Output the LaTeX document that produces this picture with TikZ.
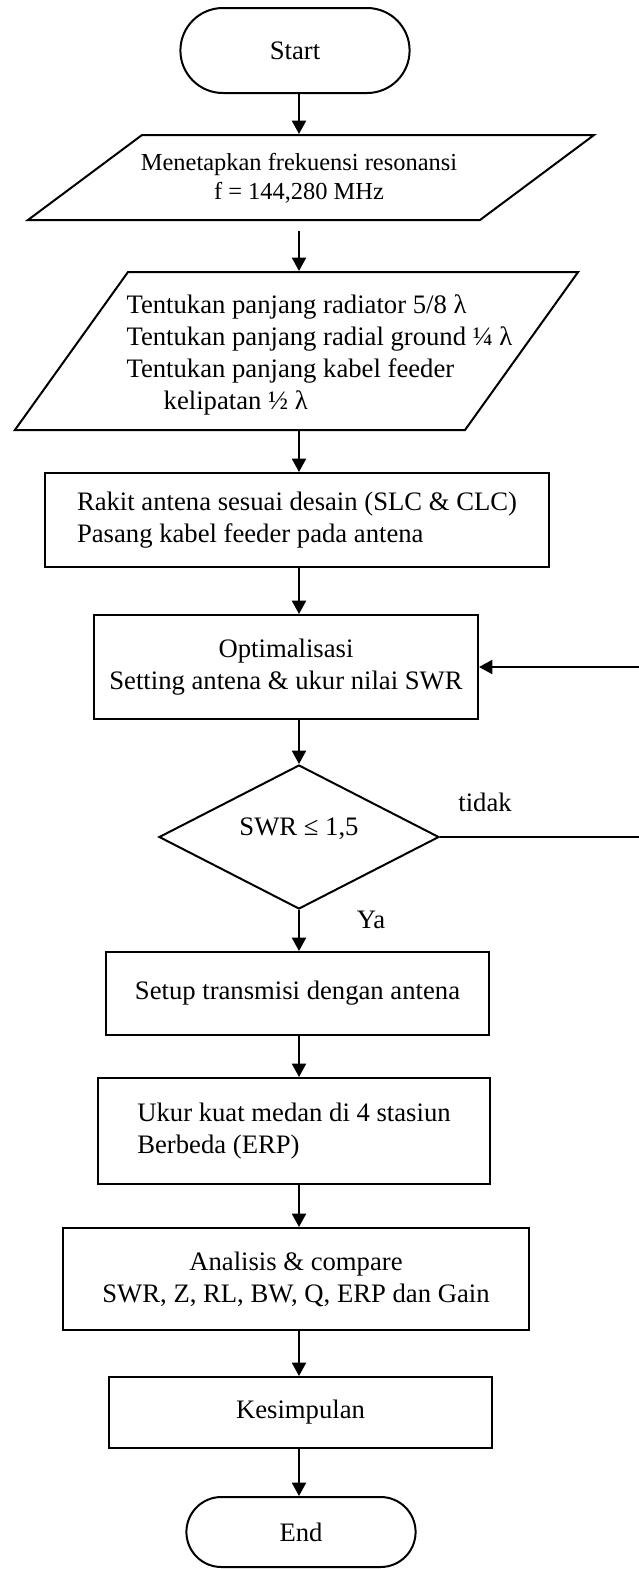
\documentclass[tikz,border=0pt]{standalone}
\usepackage{fontspec}
\setmainfont{Liberation Serif}
\usetikzlibrary{arrows.meta,shapes.geometric,shapes.misc}

\begin{document}
\begin{tikzpicture}[x=0.45pt, y=-0.45pt,
	every node/.style={font=\fontsize{12pt}{14.4pt}\selectfont},
	flow/.style={line width=0.9pt, -{Triangle[length=6pt,width=6.3pt]}},
	box/.style={draw, line width=0.9pt, rectangle, inner sep=0pt},
	term/.style={draw, line width=0.9pt, rounded rectangle, minimum width=109.8pt, minimum height=38.25pt},
	para/.style={draw, line width=0.9pt, trapezium, inner sep=0pt, text depth=0pt},
	decision/.style={draw, line width=0.9pt, diamond, aspect=1.94, inner sep=0pt, minimum width=126pt, minimum height=64.8pt}]
	\useasboundingbox (0,0) rectangle (638,1569);
	\coordinate (axis) at (299,0);
	\node[term] (start) at (295,50.5) {Start};
	\node[para, trapezium left angle=36.7, trapezium right angle=143.3, text width=152.1pt, text height=38.25pt] (freq) at (311,177.5) {};
	\node[font=\fontsize{11pt}{13pt}\selectfont, align=center] (freqtxt) at (299,178) {Menetapkan frekuensi resonansi\\f = 144,280 MHz};
	\node[para, trapezium left angle=54.4, trapezium right angle=125.6, text width=151.65pt, text height=71.1pt] (len) at (296.5,351) {};
	\node[align=left, font=\fontsize{12pt}{14.3pt}\selectfont] (lentxt) at (319.5,355) {Tentukan panjang radiator 5/8 λ\\Tentukan panjang radial ground ¼ λ\\Tentukan panjang kabel feeder\\\hspace*{16.7pt}kelipatan ½ λ};
	\node[box, minimum width=226.8pt, minimum height=42.3pt, align=left] (rakit) at (297,520) {Rakit antena sesuai desain (SLC \& CLC)\\Pasang kabel feeder pada antena};
	\node[box, minimum width=172.8pt, minimum height=46.8pt, align=center] (opt) at (286,667) {Optimalisasi\\Setting antena \& ukur nilai SWR};
	\node[decision, text depth=9pt] (swr) at (299,837) {SWR ≤ 1,5};
	\node (tidak) at (485,802) {tidak};
	\node (ya) at (371,920) {Ya};
	\node[box, minimum width=172.35pt, minimum height=37.35pt] (setup) at (297.5,993.5) {Setup transmisi dengan antena};
	\node[box, minimum width=176.4pt, minimum height=47.7pt, align=left] (ukur) at (294,1131) {Ukur kuat medan di 4 stasiun\\Berbeda (ERP)};
	\node[box, minimum width=209.7pt, minimum height=45.9pt, align=center] (analisis) at (296,1279) {Analisis \& compare\\SWR, Z, RL, BW, Q, ERP dan Gain};
	\node[box, minimum width=172.35pt, minimum height=31.95pt] (kesimpulan) at (300.5,1412.5) {Kesimpulan};
	\node[term, minimum height=31.5pt] (end) at (301,1532) {End};
	% alur utama
	\draw[flow] (axis |- start.south) -- (axis |- freq.north);
	\draw[flow] ([yshift=-4.5pt]axis |- freq.south) -- (axis |- len.north);
	\draw[flow] (axis |- len.south) -- (axis |- rakit.north);
	\draw[flow] (axis |- rakit.south) -- (axis |- opt.north);
	\draw[flow] (axis |- opt.south) -- (swr.north);
	\draw[flow] (swr.south) -- (axis |- setup.north);
	\draw[flow] (axis |- setup.south) -- (axis |- ukur.north);
	\draw[flow] (axis |- ukur.south) -- (axis |- analisis.north);
	\draw[flow] (axis |- analisis.south) -- (axis |- kesimpulan.north);
	\draw[flow] (axis |- kesimpulan.south) -- (axis |- end.north);
	% kembali ke optimalisasi
	\coordinate (back) at (660,837);
	\draw[line width=0.5pt] (swr.east) -- (back);
	\draw[flow] (back) |- (opt.east);
\end{tikzpicture}
\end{document}
